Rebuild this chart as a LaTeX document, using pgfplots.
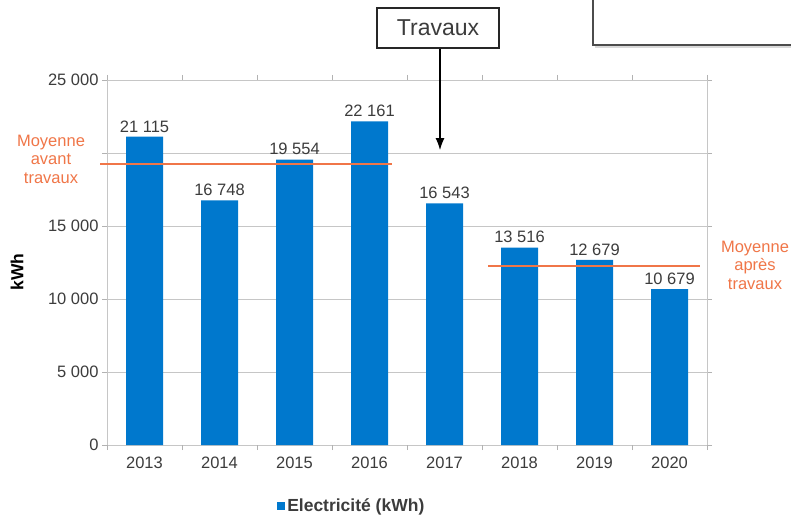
\documentclass[border=0pt]{standalone}
\usepackage{pgfplots}
\pgfplotsset{compat=1.18}
\usepackage{fontspec}
\setmainfont{Liberation Sans}
\usetikzlibrary{arrows.meta}
\definecolor{barblue}{RGB}{0,120,205}
\definecolor{moyorange}{RGB}{240,118,72}
\definecolor{txtgray}{RGB}{60,60,60}
\begin{document}
\begin{tikzpicture}[x=1pt,y=1pt]
\useasboundingbox (0,0) rectangle (791,517);
\begin{axis}[
  at={(107pt,72pt)}, anchor=south west,
  scale only axis, width=600pt, height=365pt,
  xmin=-0.5, xmax=7.5, ymin=0, ymax=25000,
  clip=false, scaled y ticks=false,
  xtick={0,...,7},
  xticklabels={2013,2014,2015,2016,2017,2018,2019,2020},
  major x tick style={draw=none},
  extra x ticks={-0.5,0.5,1.5,2.5,3.5,4.5,5.5,6.5,7.5},
  extra x tick labels={},
  extra x tick style={major x tick style={draw=gray!60}, grid=none},
  ytick={0,5000,10000,15000,20000,25000},
  yticklabels={0,5 000,10 000,15 000,,25 000},
  tick align=outside, major tick length=5pt,
  tick style={gray!60, line width=0.8pt},
  ymajorgrids, grid style={gray!45, line width=0.9pt},
  axis line style={gray!45, line width=0.9pt},
  ticklabel style={font=\fontsize{16.5}{19}\selectfont, text=txtgray},
  xticklabel style={yshift=-3pt},
  legend style={at={(0.408,-0.167)}, anchor=center, draw=none, fill=none,
    font=\bfseries\fontsize{17.5}{19}\selectfont, text=txtgray,
    /tikz/every even column/.append style={column sep=0pt}},
  legend image code/.code={\fill[barblue] (2pt,-4pt) rectangle (10pt,4pt);},
]
\addplot[ybar, bar width=37pt, fill=barblue, draw=none,
  point meta=explicit symbolic,
  nodes near coords,
  every node near coord/.append style={font=\fontsize{16.5}{19}\selectfont, text=txtgray, yshift=1pt}]
  coordinates {
  (0,21115) [21 115]
  (1,16748) [16 748]
  (2,19554) [19 554]
  (3,22161) [22 161]
  (4,16543) [16 543]
  (5,13516) [13 516]
  (6,12679) [12 679]
  (7,10679) [10 679]
};
\addlegendentry{Electricité (kWh)}
\addplot[moyorange, line width=1.9pt, forget plot] coordinates {(-0.593,19224) (3.3,19224)};
\addplot[moyorange, line width=1.9pt, forget plot] coordinates {(4.58,12291) (7.4,12291)};
\coordinate (tip) at (axis cs:3.94,20200);
\end{axis}
% annotations
\node[text=moyorange, fill=white, inner sep=1pt, align=center, font=\fontsize{16.5}{18.5}\selectfont] at (51,358) {Moyenne\\avant\\travaux};
\node[text=moyorange, fill=white, inner sep=1pt, align=center, font=\fontsize{16.5}{18.5}\selectfont] at (755,252) {Moyenne\\après\\travaux};
\node[rotate=90, font=\bfseries\fontsize{17.5}{19}\selectfont, text=black] at (17,245) {kWh};
\node[draw=gray!30!black, line width=1.4pt, minimum width=122pt, minimum height=40pt, inner sep=0pt,
  font=\fontsize{23}{25}\selectfont, text=txtgray] (box) at (438,489) {Travaux};
\draw[line width=1.2pt, black, -{Latex[length=12pt,width=9pt]}] (box.south -| tip) -- (tip);
\draw[gray!60!black, line width=1.4pt] (593,540) -- (593,472) -- (800,472);
\draw[gray!30, line width=1.2pt] (595,470) -- (800,470);
\end{tikzpicture}
\end{document}
